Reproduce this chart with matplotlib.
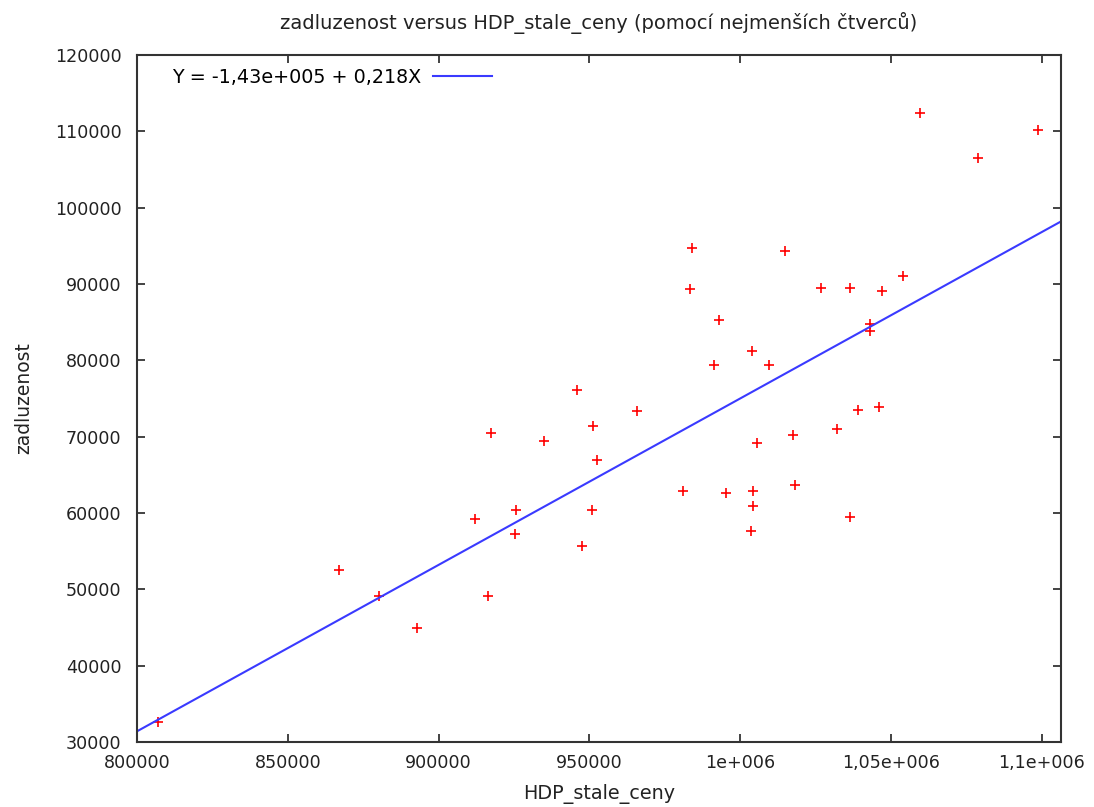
import matplotlib.pyplot as plt

# data (HDP_stale_ceny vs zadluzenost)
hdp = [806950, 866890, 880130, 892720, 911920, 916230, 917550, 925500, 925830,
       935100, 946030, 947680, 951330, 950990, 952650, 965890, 981130, 984110,
       983440, 993050, 991390, 995360, 1003640, 1004300, 1004300, 1003970,
       1005630, 1009600, 1014900, 1017550, 1018210, 1026820, 1032120, 1036420,
       1036420, 1039070, 1043050, 1043050, 1046030, 1047020, 1053970, 1059600,
       1078810, 1098680]
zadluzenost = [32600, 52570, 49150, 44960, 59260, 49150, 70540, 57290, 60440,
               69490, 76050, 55710, 71460, 60440, 67000, 73300, 62930, 94680,
               89300, 85230, 79330, 62670, 57680, 60960, 62930, 81170, 69230,
               79330, 94290, 70280, 63720, 89430, 71060, 89430, 59520, 73430,
               84710, 83790, 73950, 89040, 91010, 112390, 106490, 110160]

intercept = -1.43e5
slope = 0.218

xticks = [800000, 850000, 900000, 950000, 1000000, 1050000, 1100000]
xticklabels = ['800000', '850000', '900000', '950000', '1e+006', '1,05e+006', '1,1e+006']
yticks = list(range(30000, 120001, 10000))

xmin, xmax = 800000, 1106400

fig = plt.figure(figsize=(10.94, 8.07), dpi=100)
ax = fig.add_axes([137 / 1094, 65 / 807, 924 / 1094, 687 / 807])

ax.plot(hdp, zadluzenost, '+', color='#ff0000', markersize=7.5, markeredgewidth=1.2)
ax.plot([xmin, xmax], [intercept + slope * xmin, intercept + slope * xmax],
        color='#3a3aff', lw=1.5, label='Y = -1,43e+005 + 0,218X')

ax.set_xlim(xmin, xmax)
ax.set_ylim(30000, 120000)
ax.set_xticks(xticks)
ax.set_xticklabels(xticklabels)
ax.set_yticks(yticks)
ax.set_yticklabels([str(v) for v in yticks])

ax.tick_params(direction='in', length=6, width=1.2, top=True, right=True,
               labelsize=12.6, colors='#222222')
ax.tick_params(axis='x', pad=9)
ax.tick_params(axis='y', pad=11)
for s in ax.spines.values():
    s.set_linewidth(1.5)
    s.set_color('#333333')

ax.set_title('zadluzenost versus HDP_stale_ceny (pomocí nejmenších čtverců)',
             fontsize=14, pad=19, color='#222222')
ax.set_xlabel('HDP_stale_ceny', fontsize=13.8, labelpad=8, color='#222222')
ax.set_ylabel('zadluzenost', fontsize=13.5, labelpad=16, color='#222222')

leg = ax.legend(loc='upper left', bbox_to_anchor=(0.0298, 0.992), borderaxespad=0,
                frameon=False, markerfirst=False, fontsize=13.8,
                handlelength=3.1, handletextpad=0.6)

fig.savefig('out.png', dpi=100)
